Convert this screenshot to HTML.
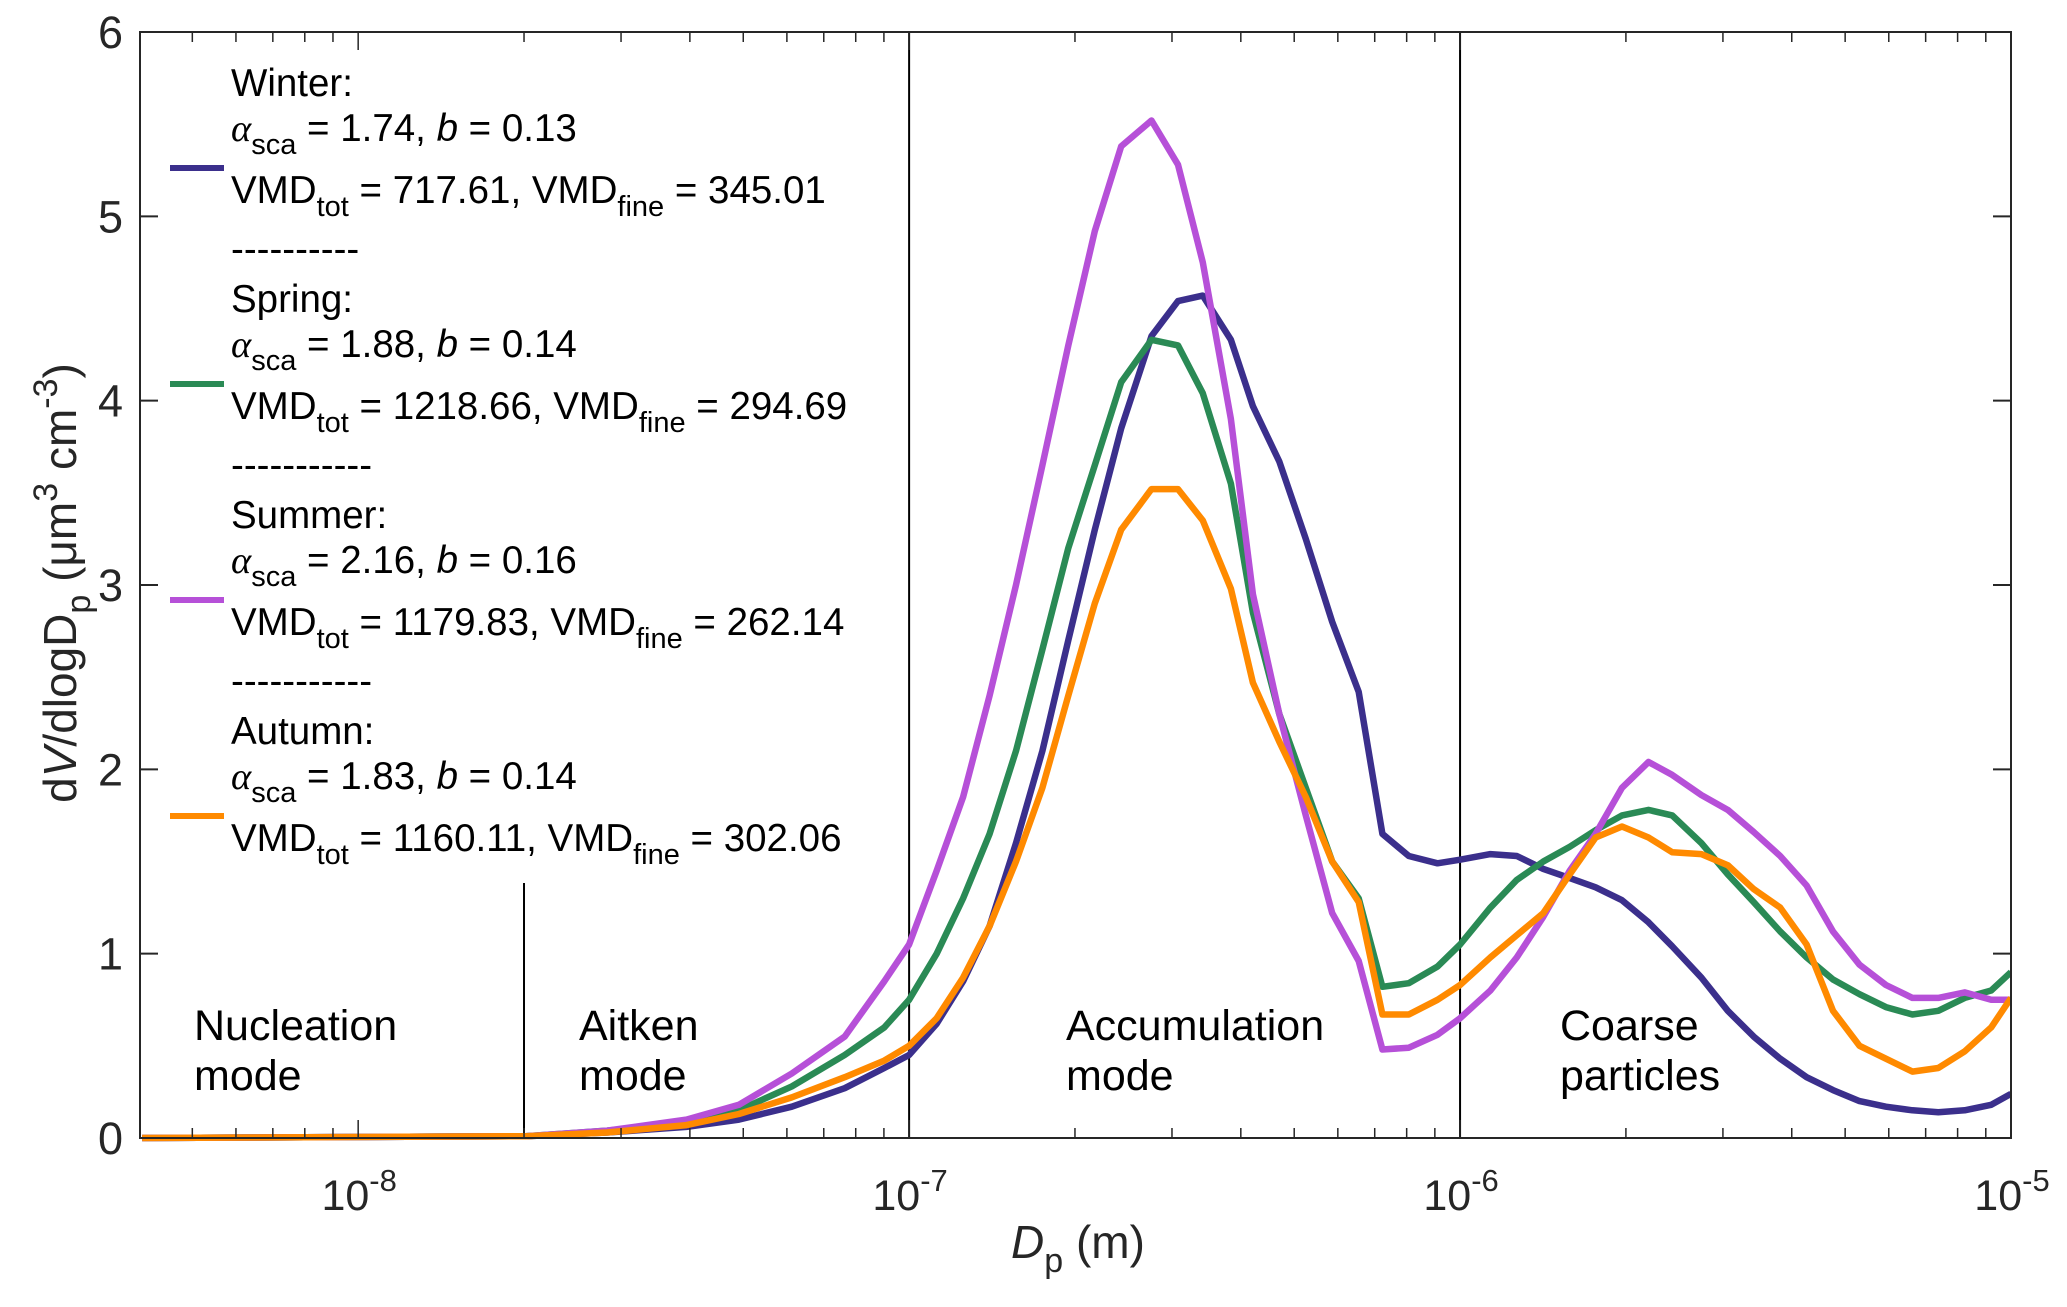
<!DOCTYPE html>
<html><head><meta charset="utf-8"><style>
html,body{margin:0;padding:0;background:#fff;}
svg{display:block;font-family:"Liberation Sans",Arial,sans-serif;}
</style></head><body>
<svg id="chart" width="2067" height="1307" viewBox="0 0 2067 1307" xmlns="http://www.w3.org/2000/svg"></svg>
<script>
const logD = [-8.392,-7.696,-7.548,-7.404,-7.309,-7.213,-7.117,-7.045,-7.000,-6.950,-6.902,-6.854,-6.806,-6.758,-6.711,-6.663,-6.615,-6.560,-6.512,-6.467,-6.416,-6.376,-6.328,-6.280,-6.232,-6.184,-6.141,-6.093,-6.041,-6.000,-5.945,-5.897,-5.849,-5.801,-5.754,-5.706,-5.658,-5.615,-5.562,-5.514,-5.467,-5.419,-5.371,-5.323,-5.275,-5.227,-5.179,-5.132,-5.084,-5.036,-5.000];
const winter = [0,.01,.03,.06,.1,.17,.27,.38,.45,.62,.85,1.15,1.6,2.1,2.7,3.3,3.85,4.35,4.54,4.57,4.33,3.97,3.67,3.25,2.8,2.42,1.65,1.53,1.49,1.51,1.54,1.53,1.46,1.41,1.36,1.29,1.17,1.04,.87,.69,.55,.43,.33,.26,.2,.17,.15,.14,.15,.18,.24];
const spring = [0,.01,.04,.08,.15,.28,.45,.6,.75,1.0,1.3,1.65,2.1,2.65,3.2,3.65,4.1,4.33,4.3,4.04,3.55,2.85,2.3,1.9,1.5,1.3,.82,.84,.93,1.05,1.25,1.4,1.5,1.58,1.67,1.75,1.78,1.75,1.6,1.43,1.28,1.12,.98,.86,.78,.71,.67,.69,.76,.8,.9];
const summer = [0,.01,.04,.1,.18,.35,.55,.85,1.05,1.45,1.85,2.4,3.0,3.65,4.3,4.92,5.38,5.52,5.28,4.75,3.9,2.95,2.3,1.75,1.22,.96,.48,.49,.56,.65,.8,.98,1.2,1.45,1.65,1.9,2.04,1.97,1.86,1.78,1.66,1.53,1.37,1.12,.94,.83,.76,.76,.79,.75,.75];
const autumn = [0,.01,.03,.07,.13,.22,.33,.42,.5,.65,.87,1.15,1.5,1.9,2.4,2.9,3.3,3.52,3.52,3.35,2.98,2.47,2.15,1.85,1.5,1.28,.67,.67,.75,.83,.98,1.1,1.22,1.43,1.63,1.69,1.63,1.55,1.54,1.48,1.35,1.25,1.05,.69,.5,.43,.36,.38,.47,.6,.76];
const yTicks = [0,1,2,3,4,5,6];
const xDecades = [-8,-7,-6,-5];
const modeBounds = [-7.699,-7,-6];

const svg = document.getElementById('chart');
const NS = 'http://www.w3.org/2000/svg';
const L = 140, R = 2011, T = 32, B = 1138;
const xMin = -8.396, xMax = -5;
const x = v => L + (v - xMin) / (xMax - xMin) * (R - L);
const y = v => B - v / 6 * (B - T);
function mk(tag, attrs, parent) {
  const e = document.createElementNS(NS, tag);
  for (const k in attrs) e.setAttribute(k, attrs[k]);
  (parent || svg).appendChild(e);
  return e;
}
const defs = mk('defs', {});
const cp = mk('clipPath', {id: 'pc'}, defs);
mk('rect', {x: L, y: T - 5, width: R - L, height: B - T + 10}, cp);

modeBounds.forEach((v, i) => {
  const ln = mk('line', {x1: x(v), x2: x(v), y1: i === 0 ? 883 : T, y2: B, stroke: '#000', 'stroke-width': 2});
  
  
});

const series = [['winter', winter, '#3b2f8c'], ['spring', spring, '#2a8a55'], ['summer', summer, '#b650d8'], ['autumn', autumn, '#ff8a00']];
series.forEach(([n, vals, c]) => {
  const p = mk('polyline', {points: vals.map((v, i) => x(logD[i]).toFixed(1) + ',' + y(v).toFixed(1)).join(' '), fill: 'none', stroke: c, 'stroke-width': 6.5, 'stroke-linejoin': 'round', 'clip-path': 'url(#pc)'});
  
  
});

const box = mk('rect', {x: L, y: T, width: R - L, height: B - T, fill: 'none', stroke: '#262626', 'stroke-width': 2});



yTicks.forEach(v => {
  mk('line', {x1: L, x2: L + 18, y1: y(v), y2: y(v), stroke: '#262626', 'stroke-width': 2});
  mk('line', {x1: R, x2: R - 18, y1: y(v), y2: y(v), stroke: '#262626', 'stroke-width': 2});
  const t = mk('text', {x: 123, y: y(v) + 16, 'font-size': 45, 'text-anchor': 'end', fill: '#262626'});
  t.textContent = v;
  
  
});
for (let d = -9; d <= -5; d++) {
  for (let m = 1; m <= 9; m++) {
    const lv = d + Math.log10(m);
    if (lv < xMin - 1e-6 || lv > xMax + 1e-6) continue;
    const len = m === 1 ? 18 : 10;
    mk('line', {x1: x(lv), x2: x(lv), y1: B, y2: B - len, stroke: '#262626', 'stroke-width': 1.5});
    mk('line', {x1: x(lv), x2: x(lv), y1: T, y2: T + len, stroke: '#262626', 'stroke-width': 1.5});
  }
}
xDecades.forEach(d => {
  const t = mk('text', {x: x(d) + 1, y: 1210, 'font-size': 43, 'text-anchor': 'middle', fill: '#262626'});
  t.innerHTML = '10<tspan dy="-19" font-size="31">' + d + '</tspan>';
  
  
});
</script>
<svg style="position:absolute;left:0;top:0" width="2067" height="1307" font-family="Liberation Sans, Arial, sans-serif">
  <g><text x="1078" y="1258" font-size="46" text-anchor="middle" fill="#262626"><tspan font-style="italic">D</tspan><tspan dy="14" font-size="34">p</tspan><tspan dy="-14"> (m)</tspan></text></g>
  <g transform="translate(76,583) rotate(-90)"><text x="0" y="0" font-size="46" text-anchor="middle" fill="#262626">d<tspan font-style="italic">V</tspan>/dlogD<tspan dy="14" font-size="34">p</tspan><tspan dy="-14"> (μm</tspan><tspan dy="-19" font-size="34">3</tspan><tspan dy="19"> cm</tspan><tspan dy="-19" font-size="34">-3</tspan><tspan dy="19">)</tspan></text></g>
  <g font-size="38.5" fill="#000">
    <g>
      <line x1="170" x2="224" y1="168" y2="168" stroke="#3b2f8c" stroke-width="6"/>
      <text x="231" y="96">Winter:</text>
      <text x="231" y="141"><tspan font-family="Liberation Serif, serif" font-style="italic">α</tspan><tspan dy="13" font-size="29">sca</tspan><tspan dy="-13"> = 1.74, </tspan><tspan font-style="italic">b</tspan> = 0.13</text>
      <text x="231" y="203">VMD<tspan dy="13" font-size="29">tot</tspan><tspan dy="-13"> = 717.61, VMD</tspan><tspan dy="13" font-size="29">fine</tspan><tspan dy="-13"> = 345.01</tspan></text>
      <text x="231" y="262">----------</text>
    </g>
    <g transform="translate(0,216)">
      <line x1="170" x2="224" y1="168" y2="168" stroke="#2a8a55" stroke-width="6"/>
      <text x="231" y="96">Spring:</text>
      <text x="231" y="141"><tspan font-family="Liberation Serif, serif" font-style="italic">α</tspan><tspan dy="13" font-size="29">sca</tspan><tspan dy="-13"> = 1.88, </tspan><tspan font-style="italic">b</tspan> = 0.14</text>
      <text x="231" y="203">VMD<tspan dy="13" font-size="29">tot</tspan><tspan dy="-13"> = 1218.66, VMD</tspan><tspan dy="13" font-size="29">fine</tspan><tspan dy="-13"> = 294.69</tspan></text>
      <text x="231" y="262">-----------</text>
    </g>
    <g transform="translate(0,432)">
      <line x1="170" x2="224" y1="168" y2="168" stroke="#b650d8" stroke-width="6"/>
      <text x="231" y="96">Summer:</text>
      <text x="231" y="141"><tspan font-family="Liberation Serif, serif" font-style="italic">α</tspan><tspan dy="13" font-size="29">sca</tspan><tspan dy="-13"> = 2.16, </tspan><tspan font-style="italic">b</tspan> = 0.16</text>
      <text x="231" y="203">VMD<tspan dy="13" font-size="29">tot</tspan><tspan dy="-13"> = 1179.83, VMD</tspan><tspan dy="13" font-size="29">fine</tspan><tspan dy="-13"> = 262.14</tspan></text>
      <text x="231" y="262">-----------</text>
    </g>
    <g transform="translate(0,648)">
      <line x1="170" x2="224" y1="168" y2="168" stroke="#ff8a00" stroke-width="6"/>
      <text x="231" y="96">Autumn:</text>
      <text x="231" y="141"><tspan font-family="Liberation Serif, serif" font-style="italic">α</tspan><tspan dy="13" font-size="29">sca</tspan><tspan dy="-13"> = 1.83, </tspan><tspan font-style="italic">b</tspan> = 0.14</text>
      <text x="231" y="203">VMD<tspan dy="13" font-size="29">tot</tspan><tspan dy="-13"> = 1160.11, VMD</tspan><tspan dy="13" font-size="29">fine</tspan><tspan dy="-13"> = 302.06</tspan></text>
    </g>
  </g>
  <g font-size="43" fill="#000">
    <text x="194" y="1040">Nucleation<tspan x="194" y="1090">mode</tspan></text>
    <text x="579" y="1040">Aitken<tspan x="579" y="1090">mode</tspan></text>
    <text x="1066" y="1040">Accumulation<tspan x="1066" y="1090">mode</tspan></text>
    <text x="1560" y="1040">Coarse<tspan x="1560" y="1090">particles</tspan></text>
  </g>
</svg>
</body></html>
